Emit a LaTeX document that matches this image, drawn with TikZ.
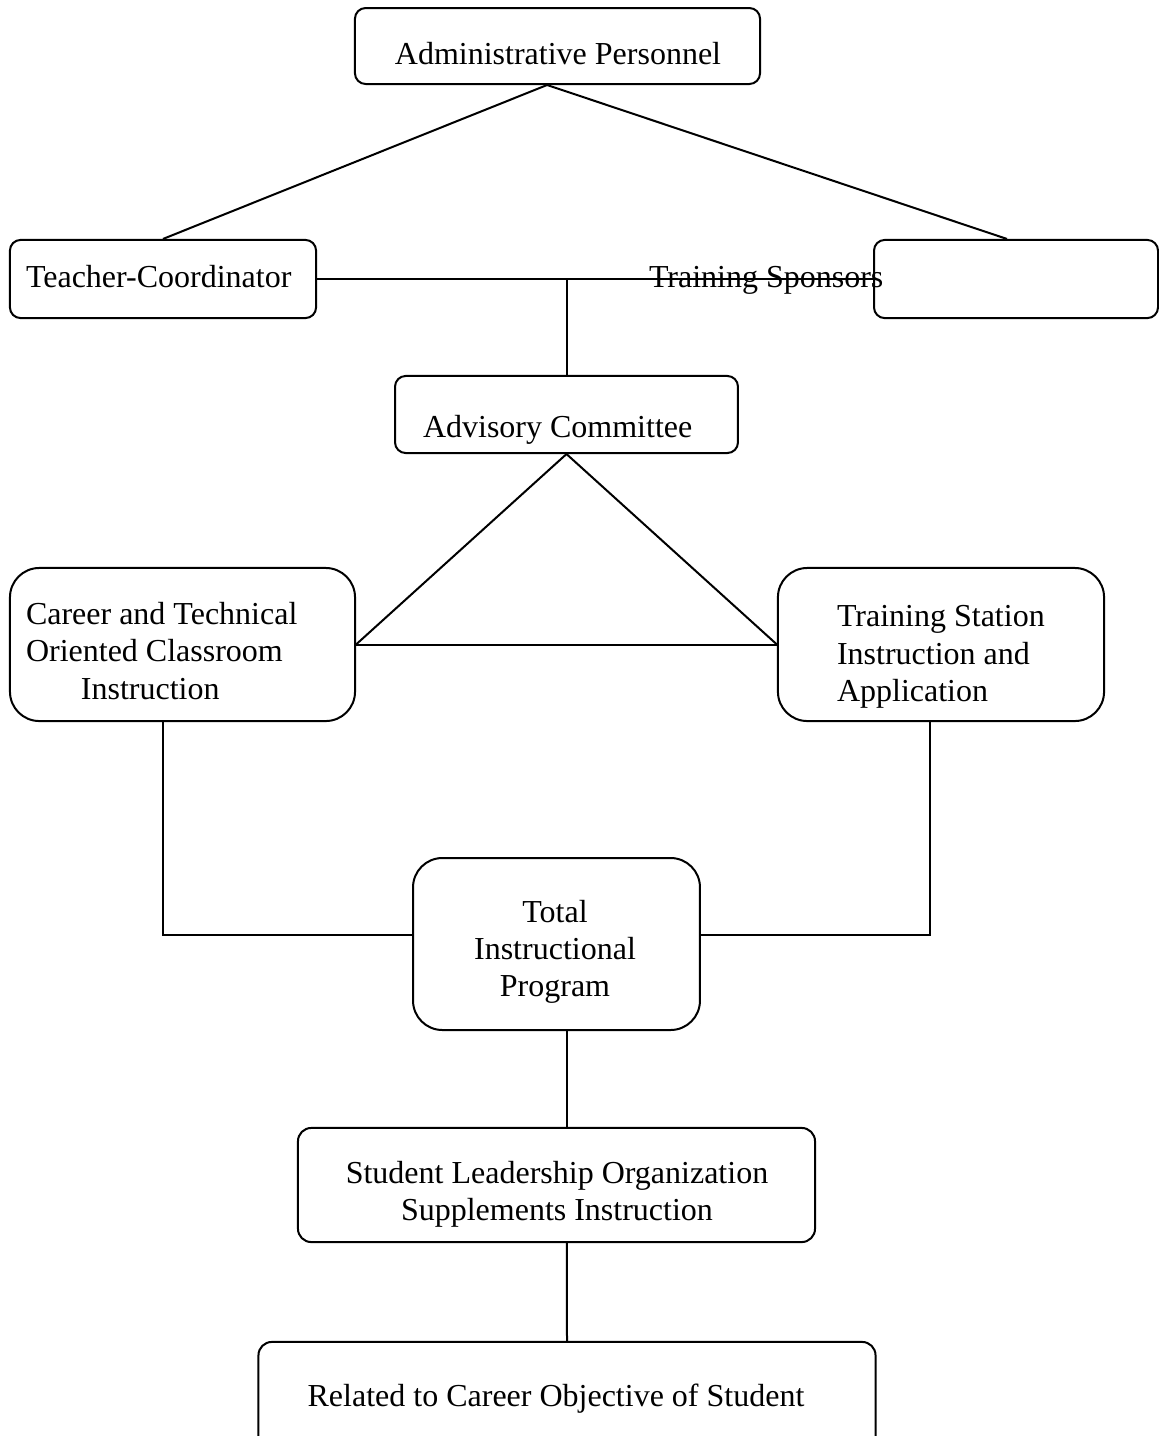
\documentclass[tikz,border=0pt]{standalone}
\usepackage{fontspec}
\setmainfont{Liberation Serif}
\usetikzlibrary{positioning}

\begin{document}
\begin{tikzpicture}[x=0.375pt,y=-0.375pt,line width=0.75pt,
  box/.style={draw,rounded corners=#1,inner sep=0pt},
  box/.default=4pt,
  txt/.style={inner sep=0pt,font=\fontsize{12}{14}\selectfont}]
\useasboundingbox (0,0) rectangle (1159,1436);
% boxes
\node[box,minimum width=151.9pt,minimum height=28.5pt] (admin) at (557.5,46) {};
\node[box,minimum width=114.8pt,minimum height=29.3pt] (teacher) at (163,279) {};
\node[box,minimum width=106.5pt,minimum height=29.3pt] (sponsors) at (1016,279) {};
\node[box,minimum width=128.6pt,minimum height=28.9pt] (advisory) at (566.5,414.5) {};
\node[box=11pt,minimum width=129.4pt,minimum height=57.4pt] (career) at (182.5,644.5) {};
\node[box=11pt,minimum width=122.3pt,minimum height=57.4pt] (station) at (941,644.5) {};
\node[box=11pt,minimum width=107.6pt,minimum height=64.5pt] (total) at (556.5,944) {};
\node[box=5pt,minimum width=193.9pt,minimum height=42.8pt] (student) at (556.5,1185) {};
\node[box=5pt,minimum width=231.4pt,minimum height=44.3pt] (related) at (567,1401) {};
% texts
\node[txt,anchor=base] (admintxt) at (558,64) {Administrative Personnel};
\node[txt,anchor=base west] (teachtxt) at (25,287) {Teacher-Coordinator};
\node[txt,anchor=base west] (spontxt) at (648,287) {Training Sponsors};
\node[txt,anchor=base west] (advtxt) at (422,437) {Advisory Committee};
\node[txt,anchor=west,align=left] (cartxt) at (25,651) {Career and Technical\\Oriented Classroom\\\hspace*{20.6pt}Instruction};
\node[txt,anchor=west,align=left] (stattxt) at (836,657) {Training Station\\Instruction and\\Application};
\node[txt,align=center] (tottxt) at (555,952) {Total\\Instructional\\Program};
\node[txt,align=center] (stutxt) at (557,1194) {Student Leadership Organization\\Supplements Instruction};
\node[txt,anchor=base] (reltxt) at (556,1406) {Related to Career Objective of Student};
% connectors
\draw ([xshift=-3.9pt]admin.south) -- (teacher.north);
\draw ([xshift=-3.9pt]admin.south) -- ([xshift=-3.4pt]sponsors.north);
\draw (teacher.east) -- (sponsors.west);
\draw (teacher.east -| advisory.north) -- (advisory.north);
\draw (advisory.south) -- (career.east);
\draw (advisory.south) -- (station.west);
\draw (career.east) -- (station.west);
\draw ([xshift=-7.3pt]career.south) |- ([yshift=3.4pt]total.west);
\draw ([xshift=-4.1pt]station.south) |- ([yshift=3.4pt]total.east);
\draw ([xshift=3.9pt]total.south) -- ([xshift=3.9pt]student.north);
\draw ([xshift=3.9pt]student.south) -- (related.north);
\end{tikzpicture}
\end{document}
